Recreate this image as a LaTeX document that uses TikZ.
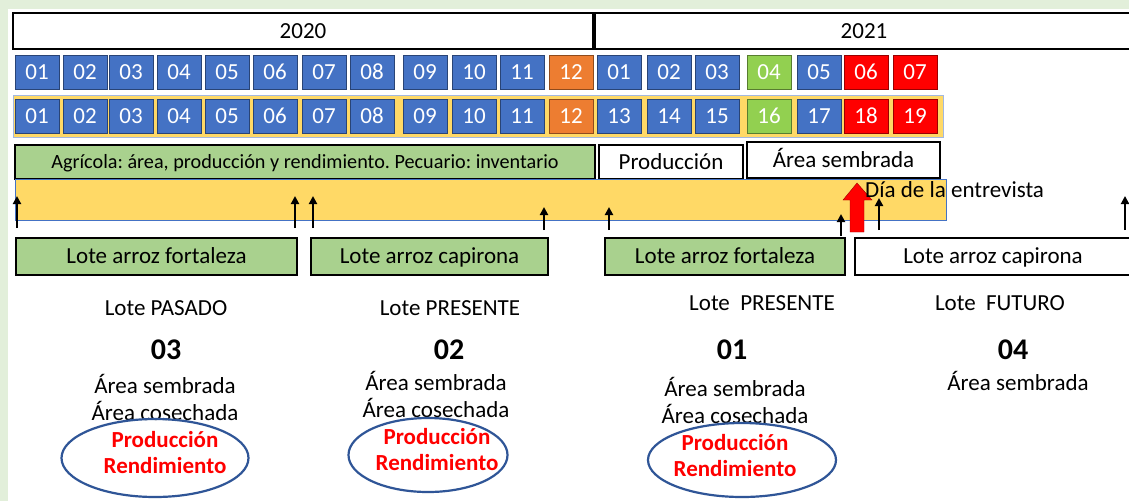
\documentclass[tikz,border=0pt]{standalone}
\usepackage{fontspec}
\setmainfont{Carlito}
\frenchspacing
\usetikzlibrary{arrows.meta,shapes.geometric}
\definecolor{mblue}{HTML}{4472C4}
\definecolor{morange}{HTML}{ED7D31}
\definecolor{mgreen}{HTML}{92D050}
\definecolor{mred}{HTML}{FF0000}
\definecolor{amarillo}{HTML}{FFD966}
\definecolor{verdeclaro}{HTML}{A9D18E}
\definecolor{fondo}{HTML}{E2EFDA}
\definecolor{elipse}{HTML}{2F5597}
\tikzset{
  mes/.style={draw=#1!60!black, fill=#1, text=white, minimum width=44pt, minimum height=34pt, inner sep=0pt,
    text height=17pt, text depth=2pt, font=\fontsize{23}{26}\selectfont},
  anio/.style={draw=black, line width=2.4pt, fill=white, minimum height=36pt, inner sep=0pt,
    text height=17pt, text depth=2pt, font=\fontsize{23}{26}\selectfont},
  caja/.style={draw=black, line width=1.8pt, minimum height=35pt, inner sep=0pt,
    text height=17pt, text depth=3pt, font=\fontsize{23}{26}\selectfont},
  flecha/.style={black, line width=2.2pt, -{Triangle[length=8pt,width=8pt]}},
  txt/.style={font=\fontsize{23}{27}\selectfont, align=center},
  num/.style={font=\fontsize{30}{32}\selectfont\bfseries},
  rojo/.style={text=mred, font=\fontsize{23}{26}\selectfont\bfseries, align=center},
  ovalo/.style={ellipse, draw=elipse, line width=2.2pt, inner sep=0pt}
}
\begin{document}
\begin{tikzpicture}[x=1pt, y=-1pt]
	  \useasboundingbox (0,0) rectangle (1129,501);
	  \fill[fondo] (0,0) rectangle (1129,501);
	  \fill[white] (8,9) rectangle (1129,501);
	  % years
	  \node[anio, minimum width=580pt] (y2020) at (303,31) {2020};
	  \node[anio, minimum width=538pt] (y2021) at (864,31) {2021};
	  % band behind second row of months
	  \filldraw[draw=mblue!50, fill=amarillo, thin] (13,95) rectangle (943,137);
	  \foreach \xl/\la/\lb/\col [count=\i] in {15/01/01/mblue, 63/02/02/mblue, 109/03/03/mblue, 157/04/04/mblue,
	      205/05/05/mblue, 253/06/06/mblue, 302/07/07/mblue, 350/08/08/mblue, 403/09/09/mblue, 452/10/10/mblue,
	      500/11/11/mblue, 549/12/12/morange, 597/01/13/mblue, 647/02/14/mblue, 695/03/15/mblue, 747/04/16/mgreen,
	      797/05/17/mblue, 844/06/18/mred, 893/07/19/mred}{
	    \node[mes=\col] (m\i) at ({\xl+22},72) {\la};
	    \node[mes=\col] (n\i) at ({\xl+22},116) {\lb};
	  }
	  % variables
	  \node[caja, fill=verdeclaro, minimum width=580pt, minimum height=34pt, text height=14pt, text depth=2pt,
	    font=\fontsize{20.2}{22}\selectfont] (agri) at (305,162) {Agrícola: área, producción y rendimiento. Pecuario: inventario};
	  \node[caja, fill=white, minimum width=144pt, minimum height=34pt] (prod) at (671,162) {Producción};
	  \node[caja, fill=white, minimum width=193pt, minimum height=36pt] (area) at (843.5,160) {Área sembrada};
	  % timeline
	  \filldraw[draw=mblue, fill=amarillo, thin] (15,179) rectangle (946,220);
	  \draw[flecha] (17,228) -- (17,196);
	  \draw[flecha] (295,228) -- (295,196);
	  \draw[flecha] (313,228) -- (313,196);
	  \draw[flecha] (544,230) -- (544,207);
	  \draw[flecha] (609,230) -- (609,207);
	  \draw[flecha] (841,236) -- (841,214);
	  \draw[flecha] (879,230) -- (879,198);
	  \draw[flecha] (1125,230) -- (1125,196);
	  \filldraw[fill=mred, draw=mred!60!black, thin] (850,232) -- (850,200) -- (843,200) -- (857,183)
	    -- (872,200) -- (864,200) -- (864,232) -- cycle;
	  \node[anchor=west, inner sep=0pt, font=\fontsize{23}{26}\selectfont] (dia) at (865,190) {Día de la entrevista};
	  % lots
	  \node[caja, fill=verdeclaro, minimum width=281pt, minimum height=37pt] (l1) at (156.5,256.5) {Lote arroz fortaleza};
	  \node[caja, fill=verdeclaro, minimum width=237pt, minimum height=37pt] (l2) at (429.5,256.5) {Lote arroz capirona};
	  \node[caja, fill=verdeclaro, minimum width=240pt, minimum height=37pt] (l3) at (725,256.5) {Lote arroz fortaleza};
	  \node[caja, fill=white, minimum width=276pt, minimum height=37pt] (l4) at (993,256.5) {Lote arroz capirona};
	  % below
	  \node[txt] (t3) at (166,308) {Lote PASADO};
	  \node[txt] (t2) at (450,308) {Lote PRESENTE};
	  \node[txt] (t1) at (762,303) {Lote~~PRESENTE};
	  \node[txt] (t4) at (1000,303) {Lote~~FUTURO};
	  \node[num] (c3) at (166,350) {03};
	  \node[num] (c2) at (449,350) {02};
	  \node[num] (c1) at (732,350) {01};
	  \node[num] (c4) at (1013,350) {04};
	  \node[txt] (a3) at (165,397.5) {Área sembrada\\Área cosechada};
	  \node[txt] (a2) at (436,394.5) {Área sembrada\\Área cosechada};
	  \node[txt] (a1) at (735,400.5) {Área sembrada\\Área cosechada};
	  \node[txt] (a4) at (1018,381) {Área sembrada};
	  \node[ovalo, minimum width=187pt, minimum height=78pt] (e3) at (155,458) {};
	  \node[ovalo, minimum width=159pt, minimum height=74pt] (e2) at (428,455) {};
	  \node[ovalo, minimum width=188pt, minimum height=74pt] (e1) at (742,460) {};
	  \node[rojo] (r3) at (165,453) {Producción\\Rendimiento};
	  \node[rojo] (r2) at (437,450) {Producción\\Rendimiento};
	  \node[rojo] (r1) at (735,456) {Producción\\Rendimiento};
	\end{tikzpicture}
\end{document}
